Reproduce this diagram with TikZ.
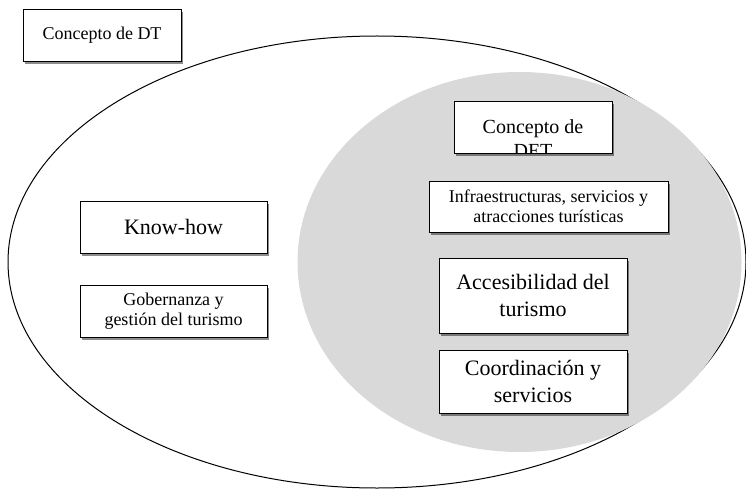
\documentclass[tikz,border=0pt]{standalone}
\usepackage{fontspec}
\setmainfont{Liberation Serif}
\usepackage{tikz}
\usetikzlibrary{shadows}
\usetikzlibrary{positioning}
\definecolor{ovalgray}{HTML}{D9D9D9}

\begin{document}
\begin{tikzpicture}[x=1pt,y=-1pt]
  % some styles
  \tikzset{
    card/.style={
      rectangle,
      draw=black,
      thin,
      fill=white,
      inner sep=0pt,
      outer sep=0pt,
      align=center,
      drop shadow={shadow xshift=1.5pt,shadow yshift=-3pt,opacity=.45,fill=black}
    }
  }
  \tikzset{bigtxt/.style={font=\fontsize{22}{27}\selectfont}}
  \tikzset{midtxt/.style={font=\fontsize{18}{20}\selectfont}}

\useasboundingbox (0,0) rectangle (746,489);

% the two ovals
\draw[line width=1pt] (377,262) ellipse [x radius=369,y radius=226];
\fill[ovalgray] (519.5,262) ellipse [x radius=222,y radius=190];

% boxes outside the grey oval
\node[card,midtxt,minimum width=158,minimum height=52] (dt) at (102,35) {Concepto de DT};
\node[card,bigtxt,minimum width=187,minimum height=52] (know) at (173.5,227) {Know-how};
\node[card,midtxt,minimum width=187,minimum height=52] (gober) at (173.5,311) {Gobernanza y\\gestión del turismo};

% boxes inside the grey oval
\node[card,minimum width=158,minimum height=52] (det) at (533,127) {};
\begin{scope}
  \clip (det.south west) rectangle (det.north east);
  \node[anchor=north,inner sep=0pt,align=center,font=\fontsize{20}{24}\selectfont] (dettxt) at (533,119) {Concepto de\\DET};
\end{scope}
\node[card,midtxt,minimum width=239,minimum height=51] (infra) at (548.5,206.5) {Infraestructuras, servicios y\\atracciones turísticas};
\node[card,bigtxt,minimum width=188,minimum height=75] (acces) at (533,295.5) {Accesibilidad del\\turismo};
\node[card,bigtxt,minimum width=188,minimum height=63] (coord) at (533,381.5) {Coordinación y\\servicios};

\end{tikzpicture}
\end{document}
